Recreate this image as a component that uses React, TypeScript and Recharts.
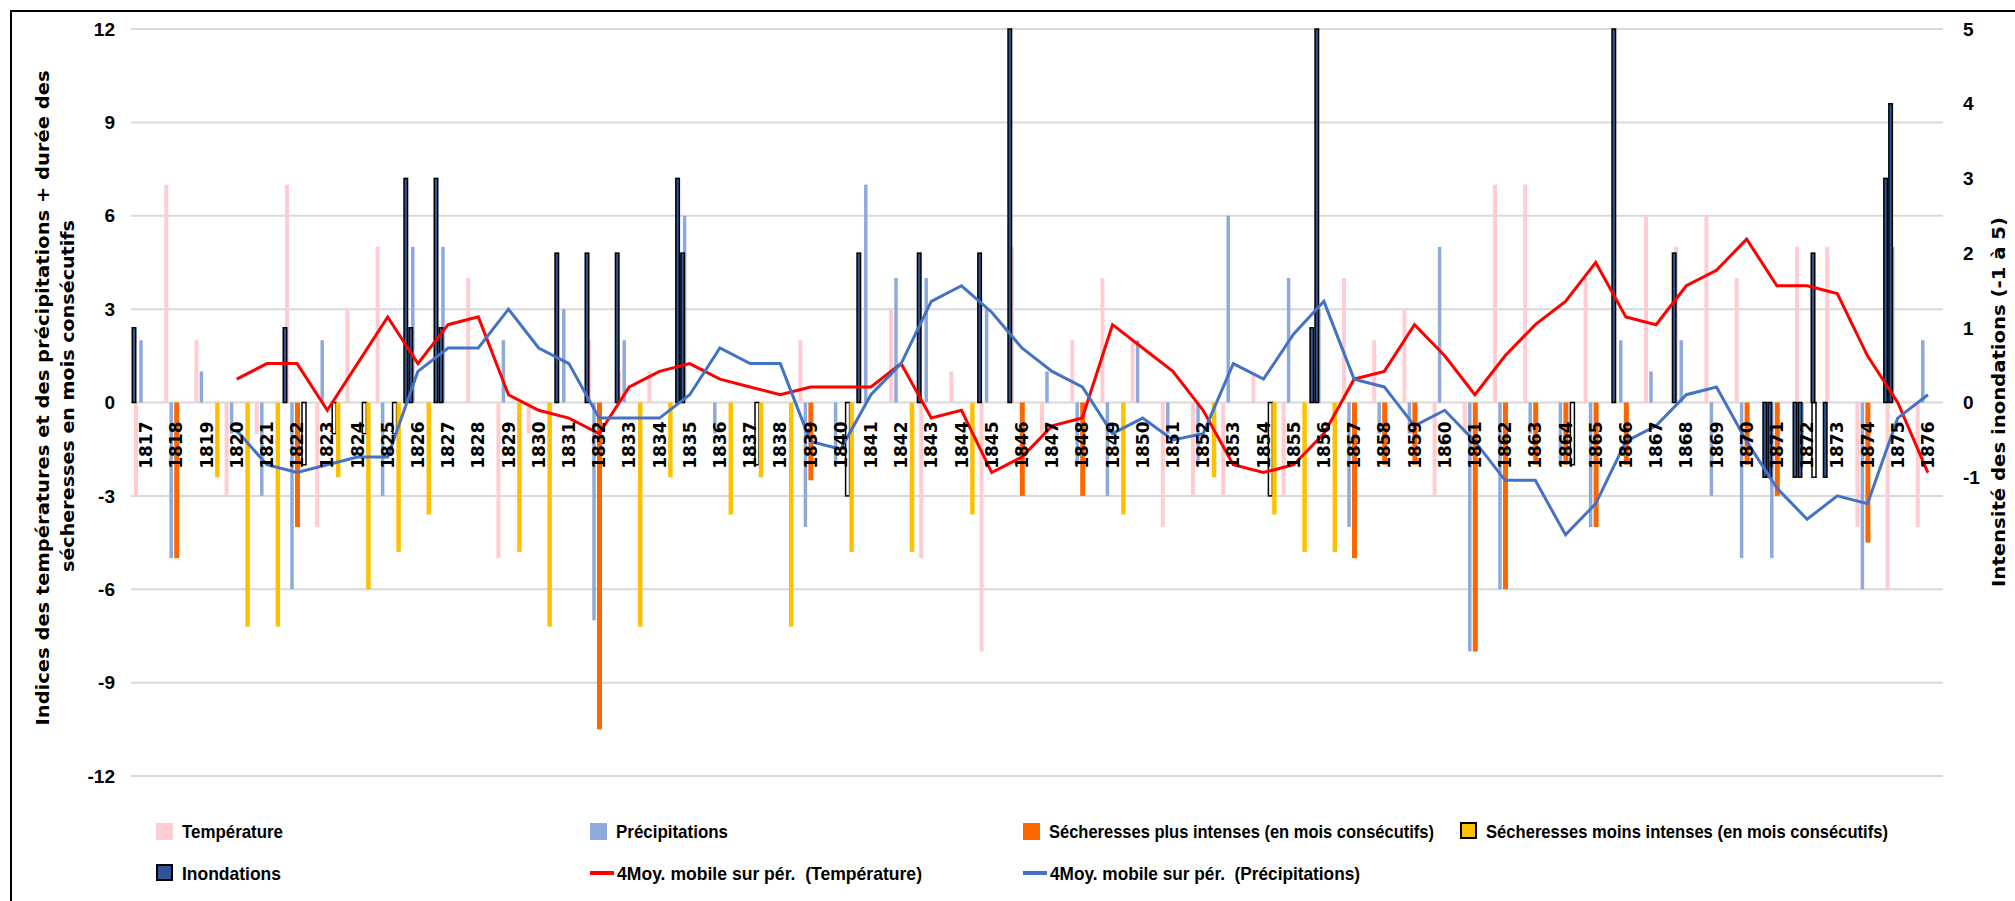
import React from "react"
import { ComposedChart, Bar, Line, XAxis, YAxis, CartesianGrid } from "recharts"

// années 1817 - 1876
const years = [
  "1817", "1818", "1819", "1820", "1821", "1822", "1823", "1824", "1825", "1826",
  "1827", "1828", "1829", "1830", "1831", "1832", "1833", "1834", "1835", "1836",
  "1837", "1838", "1839", "1840", "1841", "1842", "1843", "1844", "1845", "1846",
  "1847", "1848", "1849", "1850", "1851", "1852", "1853", "1854", "1855", "1856",
  "1857", "1858", "1859", "1860", "1861", "1862", "1863", "1864", "1865", "1866",
  "1867", "1868", "1869", "1870", "1871", "1872", "1873", "1874", "1875", "1876",
]

const temperature = [
  -3, 7, 2, -3, -1, 7, -4, 3, 5, 1,
  1, 4, -5, -1, 0, 2, 1, 1, 1, 0,
  0, 0, 2, 0, 0, 3, -5, 1, -8, 5,
  -1, 2, 4, 2, -4, -3, -3, 1, -3, 1,
  4, 2, 3, -3, -1, 7, 7, 0, 4, 0,
  6, 5, 6, 4, 0, 5, 5, -4, -6, -4,
]

const precipitations = [
  2, -5, 1, -1, -3, -6, 2, 0, -3, 5,
  5, 0, 2, 0, 3, -7, 2, 0, 6, -1,
  0, 0, -4, -2, 7, 4, 4, 0, 3, 0,
  1, -2, -3, 2, -1, -2, 6, 0, 4, 3,
  -4, -1, -1, 5, -8, -6, -1, -2, -4, 2,
  1, 2, -3, -5, -5, -2, 0, -6, 5, 2,
]

const secheressesPlus = [
  null, -5, null, null, null, -4, null, null, null, null,
  null, null, null, null, null, -10.5, null, null, null, null,
  null, null, -2.5, null, null, null, null, null, null, -3,
  null, -3, null, null, null, null, null, null, null, null,
  -5, -2, -2, null, -8, -6, -2, -2, -4, -2,
  null, null, null, -2, -3, null, null, -4.5, null, null,
]

// axe secondaire
const secheressesMoins = [
  null, null, -1, -3, -3, null, -1, -2.5, -2, -1.5,
  null, null, -2, -3, null, null, -3, -1, null, -1.5,
  -1, -3, null, -2, null, -2, null, -1.5, null, null,
  null, null, -1.5, null, null, -1, null, -1.5, -2, -2,
  null, null, null, null, null, null, null, null, null, null,
  null, null, null, null, null, null, null, null, null, null,
]

const secheressesContour = [
  null, null, null, null, null, -2, -1, -1, -1, null,
  null, null, null, null, null, null, null, null, null, null,
  -2, null, null, -3, null, null, null, null, null, null,
  null, null, null, null, null, null, null, -3, null, null,
  null, null, null, null, null, null, null, -2, null, null,
  null, null, null, null, null, -2.4, null, null, null, null,
]

// axe secondaire (-1 à 5)
const inondations = [
  1, null, null, null, null, 1, null, null, null, 3,
  3, null, null, null, 2, 2, 2, null, 3, null,
  null, null, null, null, 2, null, 2, null, 2, 5,
  null, null, null, null, null, null, null, null, null, 1,
  null, null, null, null, null, null, null, null, null, 5,
  null, 2, null, null, -1, -1, -1, null, 3, null,
]

const inondations2 = [
  null, null, null, null, null, null, null, null, null, 1,
  1, null, null, null, null, null, null, null, 2, null,
  null, null, null, null, null, null, null, null, null, null,
  null, null, null, null, null, null, null, null, null, 5,
  null, null, null, null, null, null, null, null, null, null,
  null, null, null, null, -1, -1, null, null, 4, null,
]

const inondations3 = [
  null, null, null, null, null, null, null, null, null, null,
  null, null, null, null, null, null, null, null, null, null,
  null, null, null, null, null, null, null, null, null, null,
  null, null, null, null, null, null, null, null, null, null,
  null, null, null, null, null, null, null, null, null, null,
  null, null, null, null, null, 2, null, null, null, null,
]

const moyTemperature = [
  null, null, null, 0.75, 1.25, 1.25, -0.25, 1.25, 2.75, 1.25,
  2.5, 2.75, 0.25, -0.25, -0.5, -1, 0.5, 1, 1.25, 0.75,
  0.5, 0.25, 0.5, 0.5, 0.5, 1.25, -0.5, -0.25, -2.25, -1.75,
  -0.75, -0.5, 2.5, 1.75, 1, -0.25, -2, -2.25, -2, -1,
  0.75, 1, 2.5, 1.5, 0.25, 1.5, 2.5, 3.25, 4.5, 2.75,
  2.5, 3.75, 4.25, 5.25, 3.75, 3.75, 3.5, 1.5, 0, -2.25,
]

const moyPrecipitations = [
  null, null, null, -0.9, -2, -2.25, -2, -1.75, -1.75, 1,
  1.75, 1.75, 3, 1.75, 1.25, -0.5, -0.5, -0.5, 0.25, 1.75,
  1.25, 1.25, -1.25, -1.5, 0.25, 1.25, 3.25, 3.75, 2.9, 1.75,
  1, 0.5, -1, -0.5, -1.2, -1, 1.25, 0.75, 2.2, 3.25,
  0.75, 0.5, -0.75, -0.25, -1.25, -2.5, -2.5, -4.25, -3.25, -1.25,
  -0.75, 0.25, 0.5, -1.25, -2.75, -3.75, -3, -3.25, -0.5, 0.25,
]

const leftTicks = [-12, -9, -6, -3, 0, 3, 6, 9, 12]
const rightTicks = [-1, 0, 1, 2, 3, 4, 5]

const data = years.map((year, i) => ({
  year,
  temp: temperature[i],
  prec: precipitations[i],
  sPlus: secheressesPlus[i],
  sMoins: secheressesMoins[i],
  sContour: secheressesContour[i],
  inond: inondations[i],
  inond2: inondations2[i],
  inond3: inondations3[i],
  moyT: moyTemperature[i],
  moyP: moyPrecipitations[i],
}))

const PINK = "#ffccd1"
const LIGHT_BLUE = "#8eaadb"
const ORANGE = "#ff6600"
const YELLOW = "#ffc000"
const NAVY = "#2f5597"
const RED = "#ff0000"
const BLUE = "#4472c4"

const TOP = 29
const PLOT_H = 747
const ZERO_Y = TOP + PLOT_H / 2
const NARROW = "'Liberation Sans', Arial, sans-serif"
const WIDE = "'DejaVu Sans', Verdana, sans-serif"

// barre décalée dans la catégorie
function shifted(dx: number, w: number, fill: string, stroke?: string) {
  return (p: any) => {
    const { x, y, width, height } = p
    if (x == null || y == null || height == null || Math.abs(height) < 0.01) return <g />
    const top = Math.min(y, y + height)
    const h = Math.abs(height)
    const cx = x + width / 2 + dx
    return (
      <rect
        x={cx - w / 2}
        y={top}
        width={w}
        height={h}
        fill={fill}
        stroke={stroke}
        strokeWidth={stroke ? 1.5 : 0}
      />
    )
  }
}

function YearTick(props: any) {
  const { x, payload } = props
  return (
    <text
      x={x}
      y={ZERO_Y + 19}
      transform={`rotate(-90 ${x} ${ZERO_Y + 19})`}
      textAnchor="end"
      dominantBaseline="central"
      fontFamily={WIDE}
      fontWeight="bold"
      fontSize={17}
      fill="#000"
    >
      {payload.value}
    </text>
  )
}

function RotatedText({ x, y, len, children }: { x: number; y: number; len: number; children: string }) {
  return (
    <text
      x={x}
      y={y}
      transform={`rotate(-90 ${x} ${y})`}
      textAnchor="middle"
      dominantBaseline="central"
      fontFamily={WIDE}
      fontWeight="bold"
      fontSize={18}
      textLength={len}
      lengthAdjust="spacingAndGlyphs"
      fill="#000"
    >
      {children}
    </text>
  )
}

function LeftTitle() {
  return (
    <g>
      <RotatedText x={42} y={398} len={655}>
        Indices des températures et des précipitations + durée des
      </RotatedText>
      <RotatedText x={67} y={396} len={352}>
        sécheresses en mois consécutifs
      </RotatedText>
    </g>
  )
}

function RightTitle() {
  return (
    <RotatedText x={1998} y={402} len={370}>
      Intensité des inondations (-1 à 5)
    </RotatedText>
  )
}

const legendItems = [
  { label: "Température", x: 156, y: 831, len: 101, kind: "box", color: PINK },
  { label: "Précipitations", x: 590, y: 831, len: 112, kind: "box", color: LIGHT_BLUE },
  { label: "Sécheresses plus intenses (en mois consécutifs)", x: 1023, y: 831, len: 385, kind: "box", color: ORANGE },
  { label: "Sécheresses moins intenses (en mois consécutifs)", x: 1460, y: 831, len: 402, kind: "outlined", color: YELLOW },
  { label: "Inondations", x: 156, y: 873, len: 99, kind: "outlined", color: NAVY },
  { label: "4Moy. mobile sur pér.  (Température)", x: 590, y: 873, len: 305, kind: "line", color: RED },
  { label: "4Moy. mobile sur pér.  (Précipitations)", x: 1023, y: 873, len: 310, kind: "line", color: BLUE },
]

function Legend() {
  return (
    <svg width={2015} height={901} style={{ position: "absolute", left: 0, top: 0, pointerEvents: "none" }}>
      {legendItems.map((it) => (
        <g key={it.label}>
          {it.kind === "line" ? (
            <rect x={it.x} y={it.y - 2} width={24} height={4} fill={it.color} />
          ) : (
            <rect
              x={it.x + (it.kind === "outlined" ? 1 : 0)}
              y={it.y - 8}
              width={it.kind === "outlined" ? 15 : 17}
              height={it.kind === "outlined" ? 15 : 17}
              fill={it.color}
              stroke={it.kind === "outlined" ? "#000" : "none"}
              strokeWidth={2}
            />
          )}
          <text
            x={it.x + (it.kind === "line" ? 27 : 26)}
            y={it.y}
            dominantBaseline="central"
            fontFamily={NARROW}
            fontWeight="bold"
            fontSize={19}
            textLength={it.len}
            lengthAdjust="spacingAndGlyphs"
            fill="#000"
            style={{ whiteSpace: "pre" }}
          >
            {it.label}
          </text>
        </g>
      ))}
    </svg>
  )
}

export default function App() {
  return (
    <div style={{ position: "absolute", left: 0, top: 0, width: 2015, height: 901, overflow: "hidden", background: "#fff" }}>
      <div
        style={{
          position: "absolute",
          left: 10,
          top: 10,
          width: 2100,
          height: 1000,
          border: "2px solid #000",
        }}
      />
      <ComposedChart
        width={2015}
        height={901}
        data={data}
        margin={{ top: TOP, right: 0, bottom: 95, left: 0 }}
        style={{ position: "absolute", left: 0, top: 0 }}
      >
        <CartesianGrid vertical={false} stroke="#d9d9d9" strokeWidth={2} yAxisId="left" xAxisId="main" />
        <XAxis xAxisId="main" dataKey="year" interval={0} tick={<YearTick />} axisLine={false} tickLine={false} height={30} />
        <XAxis xAxisId="t" dataKey="year" hide />
        <XAxis xAxisId="p" dataKey="year" hide />
        <XAxis xAxisId="s1" dataKey="year" hide />
        <XAxis xAxisId="s2" dataKey="year" hide />
        <XAxis xAxisId="sc" dataKey="year" hide />
        <XAxis xAxisId="i1" dataKey="year" hide />
        <XAxis xAxisId="i2" dataKey="year" hide />
        <XAxis xAxisId="i3" dataKey="year" hide />
        <YAxis
          yAxisId="left"
          domain={[-12, 12]}
          ticks={leftTicks}
          width={131}
          axisLine={false}
          tickLine={false}
          tickSize={0}
          tickMargin={16}
          tick={{ fill: "#000", fontSize: 19, fontWeight: "bold", fontFamily: NARROW }}
          label={<LeftTitle />}
        />
        <YAxis
          yAxisId="right"
          orientation="right"
          domain={[-5, 5]}
          ticks={rightTicks}
          width={72}
          axisLine={false}
          tickLine={false}
          tickSize={0}
          tickMargin={20}
          tick={{ fill: "#000", fontSize: 19, fontWeight: "bold", fontFamily: NARROW }}
          label={<RightTitle />}
        />
        <Bar xAxisId="t" yAxisId="left" dataKey="temp" barSize={4} shape={shifted(-10, 4, PINK)} isAnimationActive={false} />
        <Bar xAxisId="p" yAxisId="left" dataKey="prec" barSize={4} shape={shifted(-5, 3.5, LIGHT_BLUE)} isAnimationActive={false} />
        <Bar xAxisId="s1" yAxisId="left" dataKey="sPlus" barSize={5} shape={shifted(0, 5, ORANGE)} isAnimationActive={false} />
        <Bar xAxisId="sc" yAxisId="left" dataKey="sContour" barSize={4} shape={shifted(7, 4, "none", "#000")} isAnimationActive={false} />
        <Bar xAxisId="s2" yAxisId="right" dataKey="sMoins" barSize={4} shape={shifted(11, 4.5, YELLOW)} isAnimationActive={false} />
        <Bar xAxisId="i1" yAxisId="right" dataKey="inond" barSize={4} shape={shifted(-12, 3.5, NAVY, "#000")} isAnimationActive={false} />
        <Bar xAxisId="i2" yAxisId="right" dataKey="inond2" barSize={4} shape={shifted(-7, 3.5, NAVY, "#000")} isAnimationActive={false} />
        <Bar xAxisId="i3" yAxisId="right" dataKey="inond3" barSize={4} shape={shifted(6, 3.5, NAVY, "#000")} isAnimationActive={false} />
        <Line xAxisId="main" yAxisId="left" dataKey="moyT" stroke={RED} strokeWidth={3} dot={false} isAnimationActive={false} />
        <Line xAxisId="main" yAxisId="left" dataKey="moyP" stroke={BLUE} strokeWidth={3} dot={false} isAnimationActive={false} />
      </ComposedChart>
      <Legend />
    </div>
  )
}
